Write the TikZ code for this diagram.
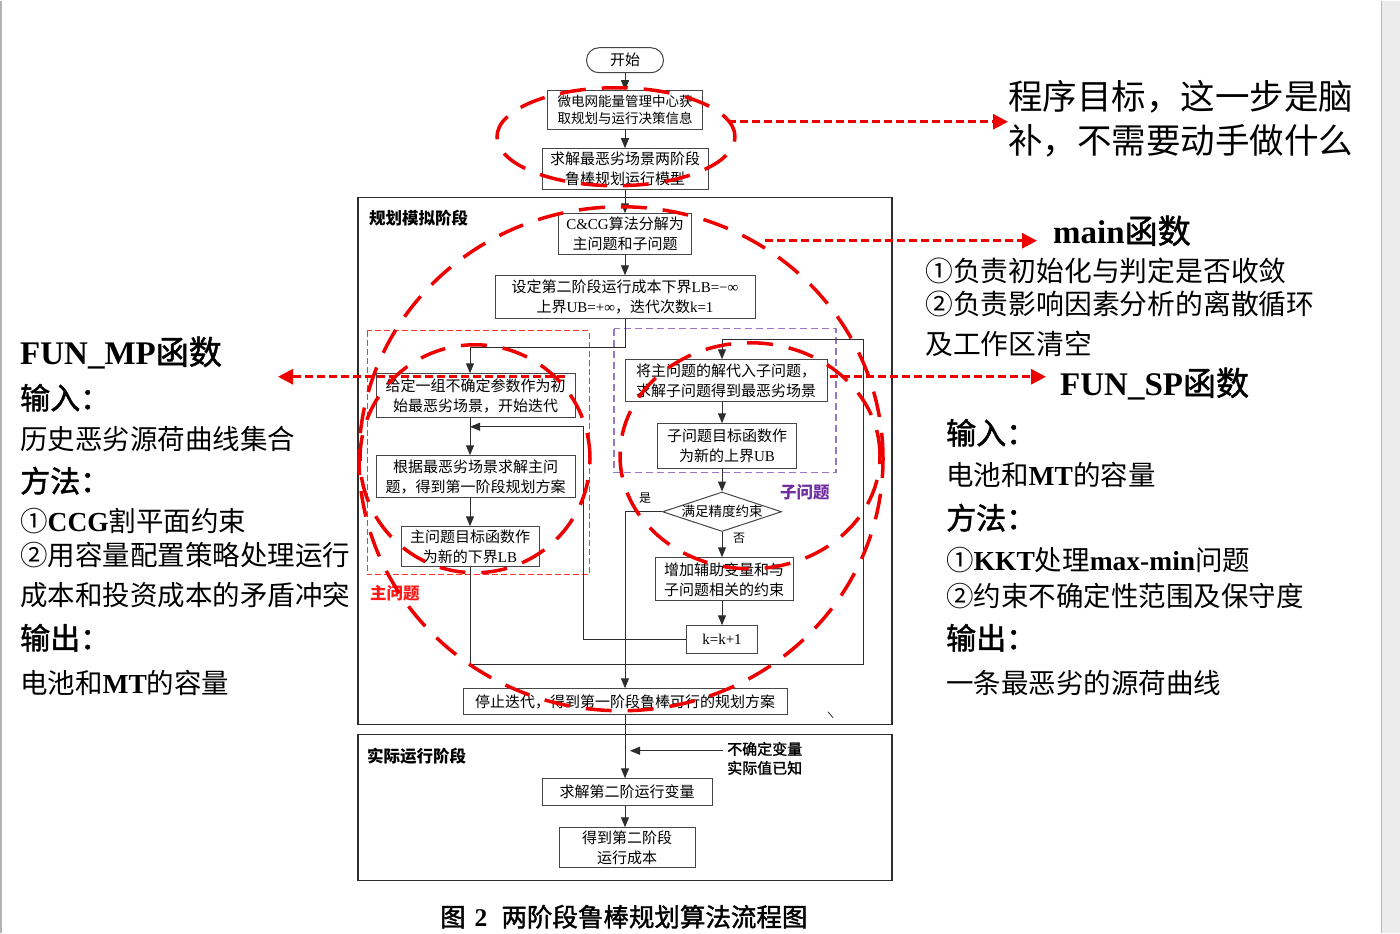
\documentclass[tikz,border=0pt]{standalone}
\usepackage{fontspec}
\setmainfont{Noto Sans CJK SC}
\newfontfamily\cjkm[FakeBold=1.5]{Noto Sans CJK SC}
\newfontfamily\tnr{Liberation Serif}
\usetikzlibrary{arrows.meta,shapes.geometric}
\definecolor{rd}{RGB}{238,0,0}
\definecolor{pu}{RGB}{150,120,200}
\definecolor{pulab}{RGB}{112,48,160}
\definecolor{ln}{RGB}{45,45,45}
\definecolor{bx}{RGB}{70,70,70}
\begin{document}
\begin{tikzpicture}[x=1pt,y=-1pt,
  fb/.style={draw=bx, line width=1pt, align=center, inner sep=0pt, font=\fontsize{15pt}{20pt}\selectfont},
  flow/.style={draw=ln, line width=1pt, -{Triangle[length=10pt,width=8pt]}},
  rarr/.style={draw=rd, line width=3pt, dash pattern=on 8pt off 4pt, -{Triangle[length=15pt,width=15pt]}},
  ell/.style={draw=rd, line width=3.5pt, dash pattern=on 26pt off 16pt},
  frame/.style={draw=ln, line width=1.2pt},
  lab/.style={anchor=west, inner sep=0pt, font=\fontsize{16.5pt}{20pt}\selectfont\bfseries},
  small/.style={inner sep=0pt, font=\fontsize{12pt}{14pt}\selectfont},
  big/.style={anchor=west, inner sep=0pt, font=\fontsize{27.5pt}{30pt}\selectfont},
  head/.style={anchor=west, inner sep=0pt, font=\fontsize{30pt}{32pt}\selectfont\cjkm},
  ttl/.style={anchor=west, inner sep=0pt, font=\fontsize{33pt}{36pt}\selectfont\cjkm},
]
% page
\fill[white] (0,0) rectangle (1400,932);
\fill[gray!15] (1381,0) rectangle (1400,932);
\draw[gray!55, line width=1pt] (1381,0) -- (1381,932);
\draw[gray!60, line width=1.5pt] (1,0) -- (1,932);

% frames
\draw[frame] (358,197) rectangle (892,724);
\draw[frame] (358,734) rectangle (892,880);
\node[lab] (stage1) at (369,217) {规划模拟阶段};
\node[lab] (stage2) at (367,755) {实际运行阶段};

% dashed regions
\draw[draw=red!80, line width=1pt, dash pattern=on 6pt off 3pt] (367,330) rectangle (589,574);
\draw[draw=pu, line width=1.2pt, dash pattern=on 7pt off 4pt] (614,328) rectangle (836,472);
\node[lab, text=red!90] (mplab) at (370,592) {主问题};
\node[lab, text=pulab] (splab) at (780,492) {子问题};

% main column
\node[fb, minimum width=77pt, minimum height=25pt, rounded corners=12.5pt] (start) at (625,59.5) {开始};
\node[fb, minimum width=155pt, minimum height=39pt, font=\fontsize{13.5pt}{17pt}\selectfont] (b1) at (625,109.5) {微电网能量管理中心获\\取规划与运行决策信息};
\node[fb, minimum width=166pt, minimum height=41pt] (b2) at (625,168.5) {求解最恶劣场景两阶段\\鲁棒规划运行模型};
\node[fb, minimum width=133pt, minimum height=41pt] (b3) at (625,233.5) {{\tnr C\&CG}算法分解为\\主问题和子问题};
\node[fb, minimum width=260pt, minimum height=43pt] (b4) at (625,296.5) {设定第二阶段运行成本下界{\tnr LB=−∞}\\上界{\tnr UB=+∞}，迭代次数{\tnr k=1}};

% master problem
\node[fb, minimum width=199pt, minimum height=44pt] (m1) at (475.5,395) {给定一组不确定参数作为初\\始最恶劣场景，开始迭代};
\node[fb, minimum width=199pt, minimum height=42pt] (m2) at (475.5,476) {根据最恶劣场景求解主问\\题，得到第一阶段规划方案};
\node[fb, minimum width=138pt, minimum height=40pt] (m3) at (470,546) {主问题目标函数作\\为新的下界{\tnr LB}};

% sub problem
\node[fb, minimum width=202pt, minimum height=42pt] (s1) at (726,380) {将主问题的解代入子问题，\\求解子问题得到最恶劣场景};
\node[fb, minimum width=139pt, minimum height=45pt] (s2) at (727,445.5) {子问题目标函数作\\为新的上界{\tnr UB}};
\node[fb, shape=diamond, aspect=3, minimum width=119pt, minimum height=39pt, font=\fontsize{13.5pt}{16pt}\selectfont] (dia) at (722,511) {满足精度约束};
\node[fb, minimum width=138pt, minimum height=43pt] (add) at (724,578.5) {增加辅助变量和与\\子问题相关的约束};
\node[fb, minimum width=71pt, minimum height=28pt] (kb) at (722,639) {\tnr k=k+1};

\node[fb, minimum width=324pt, minimum height=26pt] (stop) at (625,701) {停止迭代，得到第一阶段鲁棒可行的规划方案};
\node[fb, minimum width=170pt, minimum height=27pt] (solve) at (627,791.5) {求解第二阶运行变量};
\node[fb, minimum width=136pt, minimum height=40pt] (cost) at (627,847) {得到第二阶段\\运行成本};
\node[anchor=north west, inner sep=0pt, align=left, font=\fontsize{15pt}{19pt}\selectfont\cjkm] (info) at (727,741) {不确定变量\\实际值已知};

\node[small] (yes) at (645,497) {是};
\node[small] (no) at (739,538) {否};

% axis coordinates
\coordinate (ma) at (470,0);
\coordinate (sa) at (722,0);
\coordinate (j1) at (625,347);
\coordinate (lb) at (470,664);
\coordinate (rb) at (863,664);
\coordinate (rt) at (863,339);
\coordinate (kx) at (583,426);
\coordinate (ia) at (723,750);
\coordinate (ib) at (630,750);

% connectors
\draw[flow] (start) -- (b1);
\draw[flow] (b1) -- (b2);
\draw[flow] (b2) -- (b3);
\draw[flow] (b3) -- (b4);
\draw[flow] (b4.south) -- (j1) -| (ma |- m1.north);
\draw[flow] (ma |- m1.south) -- (ma |- m2.north);
\draw[flow] (ma |- m2.south) -- (m3.north);
\draw[flow] (m3.south) -- (lb) -- (rb) -- (rt) -- (sa |- rt) -- (sa |- s1.north);
\draw[flow] (sa |- s1.south) -- (sa |- s2.north);
\draw[flow] (sa |- s2.south) -- (dia.north);
\draw[flow] (dia.west) -- (j1 |- dia.west) -- (j1 |- stop.north);
\draw[flow] (dia.south) -- (sa |- add.north);
\draw[flow] (sa |- add.south) -- (kb.north);
\draw[flow] (kb.west) -- (kx |- kb.west) -- (kx) -- (ma |- kx);
\draw[flow] (stop.south) -- (stop.south |- solve.north);
\draw[flow] (ia) -- (ib);
\draw[flow] (stop.south |- solve.south) -- (stop.south |- cost.north);
\draw[ln, line width=0.8pt] (828,711) -- (833,717);

% annotations left
\node[ttl] (fmp) at (20,352) {{\tnr\bfseries FUN\_MP}函数};
\node[head] (lin) at (20,397) {输入：};
\node[big] (lin2) at (20,438) {历史恶劣源荷曲线集合};
\node[head] (lme) at (20,480) {方法：};
\node[big] (lm1) at (20,520) {①{\tnr\bfseries CCG}割平面约束};
\node[big] (lm2) at (20,554) {②用容量配置策略处理运行};
\node[big] (lm3) at (20,594) {成本和投资成本的矛盾冲突};
\node[head] (lout) at (20,637) {输出：};
\node[big] (lout2) at (20,682) {电池和{\tnr\bfseries MT}的容量};

% annotations right
\node[anchor=west, inner sep=0pt, font=\fontsize{34.5pt}{36pt}\selectfont] (goal1) at (1008,96) {程序目标，这一步是脑};
\node[anchor=west, inner sep=0pt, font=\fontsize{34.5pt}{36pt}\selectfont] (goal2) at (1008,140) {补，不需要动手做什么};
\node[ttl] (mainf) at (1053,230) {{\tnr\bfseries main}函数};
\node[big, font=\fontsize{27.8pt}{30pt}\selectfont] (mf1) at (925,270) {①负责初始化与判定是否收敛};
\node[big, font=\fontsize{27.8pt}{30pt}\selectfont] (mf2) at (925,303) {②负责影响因素分析的离散循环};
\node[big, font=\fontsize{27.8pt}{30pt}\selectfont] (mf3) at (925,343) {及工作区清空};
\node[ttl] (fsp) at (1060,383) {{\tnr\bfseries FUN\_SP}函数};
\node[head] (rin) at (946,432) {输入：};
\node[big] (rin2) at (946,474) {电池和{\tnr\bfseries MT}的容量};
\node[head] (rme) at (946,517) {方法：};
\node[big] (rm1) at (946,559) {①{\tnr\bfseries KKT}处理{\tnr\bfseries max-min}问题};
\node[big] (rm2) at (946,595) {②约束不确定性范围及保守度};
\node[head] (rout) at (946,637) {输出：};
\node[big] (rout2) at (946,682) {一条最恶劣的源荷曲线};

% caption
\node[anchor=west, inner sep=0pt, font=\fontsize{25.5pt}{27pt}\selectfont\cjkm] (cap) at (440,916) {图\hspace{9pt}{\tnr\bfseries 2}\hspace{14pt}两阶段鲁棒规划算法流程图};

% red ellipses
\draw[ell] (616,136) ellipse [x radius=119pt, y radius=49pt];
\draw[ell] (621,458) ellipse [x radius=262pt, y radius=252pt];
\draw[ell] (475,458) ellipse [x radius=115pt, y radius=114pt];
\draw[ell] (750,455) ellipse [x radius=130pt, y radius=113pt];

% red dashed arrows
\coordinate (a1s) at (728,121);
\coordinate (a2s) at (762,240);
\coordinate (a3s) at (565,376);
\coordinate (a4s) at (830,376);
\draw[rarr] (a1s) -- (a1s -| goal1.west);
\draw[rarr] ([xshift=3pt]a2s) -- ([xshift=-16pt]a2s -| mainf.west);
\draw[rarr] (a3s) -- (278,376);
\draw[rarr] (a4s) -- ([xshift=-14pt]a4s -| fsp.west);
\end{tikzpicture}
\end{document}
